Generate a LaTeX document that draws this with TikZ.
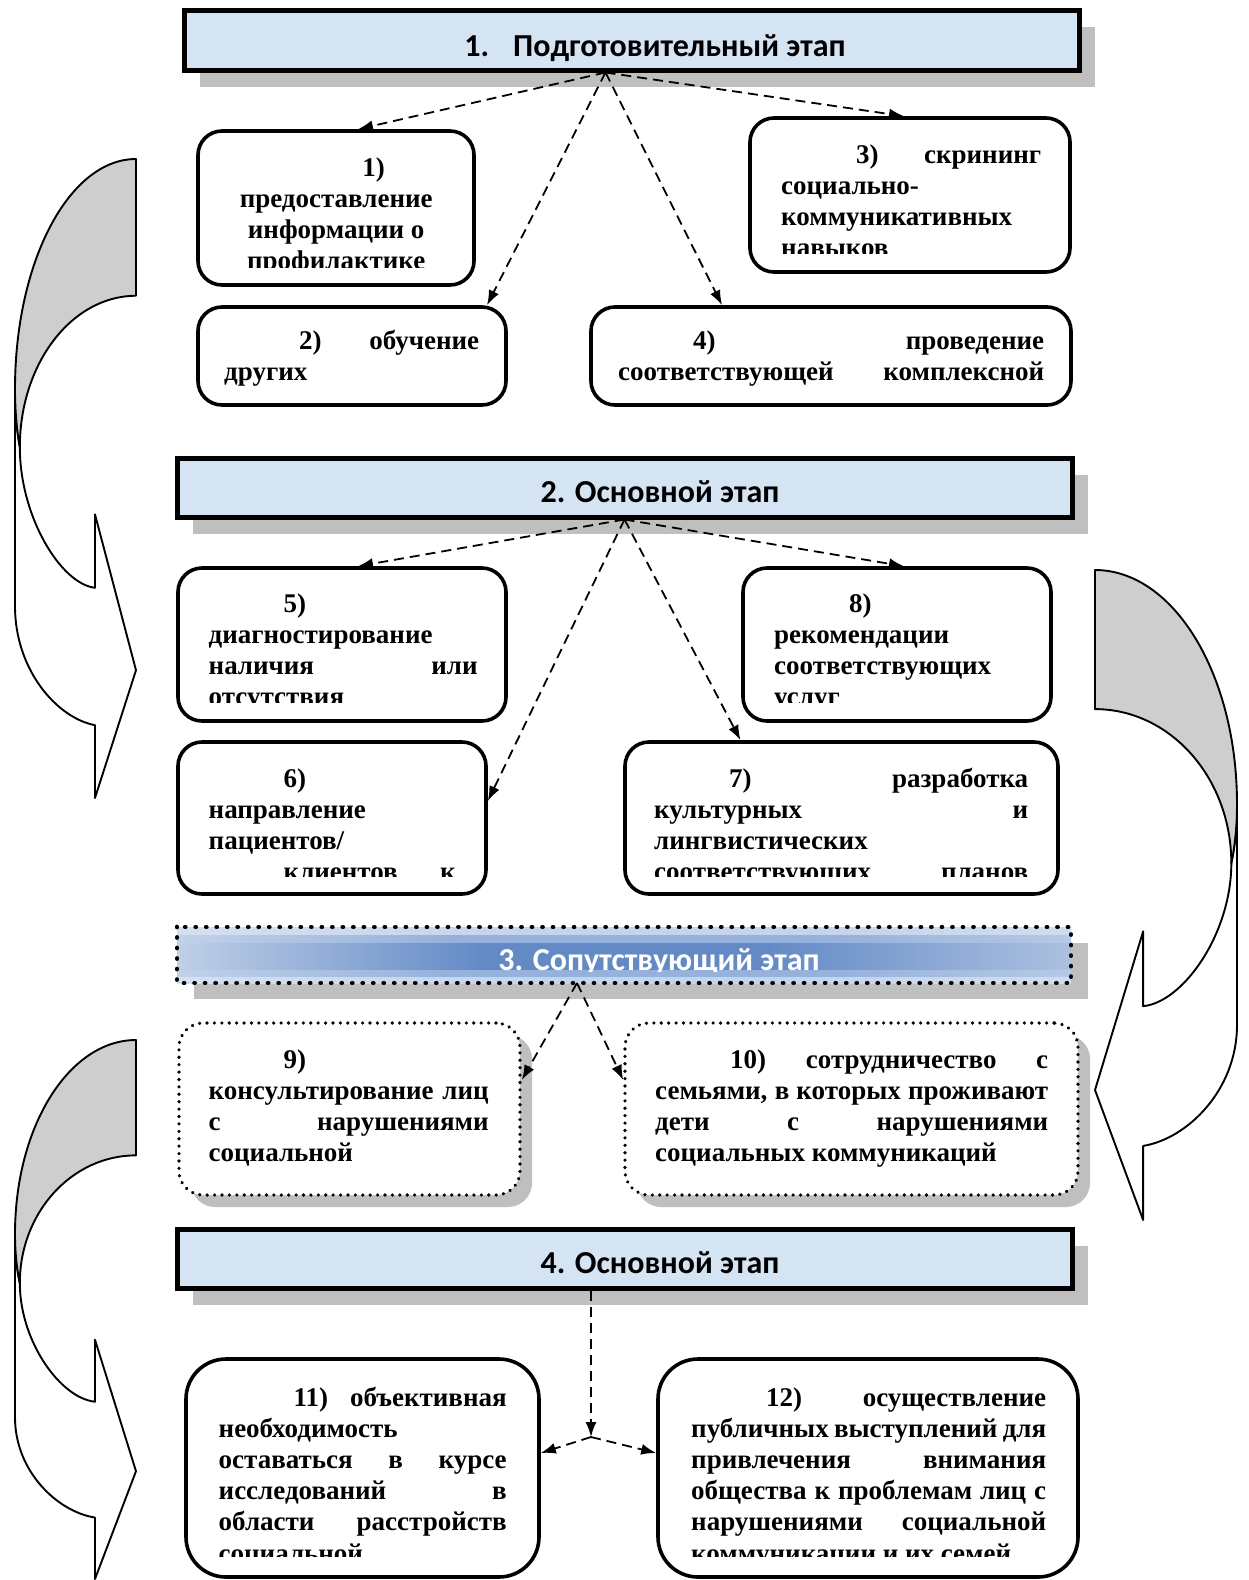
\documentclass[tikz,border=0pt]{standalone}
\usepackage{fontspec}
\setmainfont{Liberation Serif}
\newfontfamily\hdrfont{Carlito}
\usetikzlibrary{arrows.meta,calc,shadows}

\definecolor{hdrblue}{RGB}{212,228,243}
\definecolor{shade}{RGB}{191,191,191}
\definecolor{bandgray}{RGB}{206,206,206}
\definecolor{paleblue}{RGB}{218,228,241}
\definecolor{softblue}{RGB}{196,212,234}
\definecolor{midblue}{RGB}{150,178,220}
\definecolor{deepblue}{RGB}{100,138,198}

% horizontal blends for the third stage header (light edges, blue centre)
\pgfdeclarehorizontalshading{layerone}{100bp}{color(0bp)=(paleblue); color(18bp)=(paleblue);
  color(45bp)=(softblue); color(60bp)=(softblue); color(88bp)=(paleblue); color(100bp)=(paleblue)}
\pgfdeclarehorizontalshading{layertwo}{100bp}{color(0bp)=(paleblue); color(16bp)=(paleblue);
  color(40bp)=(midblue); color(62bp)=(midblue); color(90bp)=(paleblue); color(100bp)=(paleblue)}
\pgfdeclarehorizontalshading{layerthree}{100bp}{color(0bp)=(paleblue); color(20bp)=(paleblue);
  color(42bp)=(deepblue); color(58bp)=(deepblue); color(86bp)=(paleblue); color(100bp)=(paleblue)}

% first-line indent and a justified (stretched) line
\newcommand\firstind{\hspace*{75pt}}
\newcommand\jline[1]{\makebox[\linewidth][s]{#1}}

% curved band arrow: #1 flat-end x, #2 signed width, #3 top y, #4 height
\newcommand{\bentband}[4]{%
  \begin{scope}[shift={(#1,#3)}, xscale=#2, yscale=#4]
    \path[bandwhite] (1,0.36) -- (1,0.70)
      .. controls (1,0.80) and (0.65,0.875) .. (0.339,0.886)
      -- (0.339,1) -- (0,0.8) -- (0.339,0.556) -- (0.339,0.671)
      .. controls (0.62,0.665) and (0.96,0.56) .. (0.96,0.451)
      .. controls (0.98,0.43) and (1,0.40) .. (1,0.36) -- cycle;
    \path[bandback] (0,0)
      .. controls (0.552,0) and (1,0.16) .. (1,0.36)
      .. controls (1,0.40) and (0.98,0.43) .. (0.96,0.451)
      .. controls (0.96,0.32) and (0.53,0.214) .. (0,0.214) -- cycle;
  \end{scope}}

\tikzset{
  hdr/.style={draw=black, line width=5pt, fill=hdrblue, inner sep=0pt,
    drop shadow={opacity=1, fill=shade, shadow xshift=16pt, shadow yshift=-17pt}},
  stage/.style={draw=black, line width=3.6pt, rounded corners=24pt, fill=white, inner sep=0pt},
  dotbox/.style={draw=black, line width=3.6pt, dash pattern=on 0.01pt off 7.4pt,
    line cap=round, rounded corners=24pt, fill=white, inner sep=0pt,
    drop shadow={opacity=1, fill=shade, shadow xshift=12pt, shadow yshift=-12pt}},
  link/.style={draw=black, line width=1.8pt, dash pattern=on 10pt off 6pt,
    -{Latex[length=15pt,width=11pt]}},
  body/.style={font=\fontsize{27}{31.2}\selectfont\bfseries, inner sep=0pt, anchor=base west},
  hdrtext/.style={font=\hdrfont\fontsize{32}{36}\selectfont\bfseries, inner sep=0pt, anchor=base},
  bandwhite/.style={fill=white, draw=black, line width=1.9pt, line join=round},
  bandback/.style={fill=bandgray, draw=black, line width=1.9pt, line join=round},
}

\begin{document}
\begin{tikzpicture}[x=1pt, y=-1pt]
\useasboundingbox (0,0) rectangle (1248,1580);
\fill[white] (0,0) rectangle (1248,1580);

% ---------- stage headers ----------
\node[hdr, minimum width=895pt, minimum height=60pt] (h1) at (631.5,40) {};
\node[hdrtext] (ht1) at (655,56.5) {1.\hspace{24pt}Подготовительный этап};

\node[hdr, minimum width=895pt, minimum height=59pt] (h2) at (624.5,487.5) {};
\node[hdrtext] (ht2) at (660,502.5) {2. Основной этап};

\node[fill=paleblue, inner sep=0pt, outer sep=0pt, minimum width=894pt, minimum height=56pt,
  drop shadow={opacity=1, fill=shade, shadow xshift=17pt, shadow yshift=-16pt}] (h3) at (624,955) {};
\shade[shading=layerone] (h3.north west) rectangle (h3.south east);
\shade[shading=layertwo] ($(h3.north west)+(0,8)$) rectangle ($(h3.south east)+(0,-7)$);
\shade[shading=layerthree] ($(h3.north west)+(0,16)$) rectangle ($(h3.south east)+(0,-14)$);
\begin{scope}
  \clip (h3.north west) rectangle (1071,971);
  \node[hdrtext, text=white] (ht3) at (659,970) {3. Сопутствующий этап};
\end{scope}
\draw[line width=4.8pt, dash pattern=on 0.01pt off 10.5pt, line cap=round]
  (h3.north west) rectangle (h3.south east);

\node[hdr, minimum width=895pt, minimum height=59pt] (h4) at (624.5,1258.5) {};
\node[hdrtext] (ht4) at (660,1273) {4. Основной этап};

% ---------- stage 1 boxes ----------
\node[stage, minimum width=276pt, minimum height=154pt] (b1) at (336,208) {};
\begin{scope}
  \clip (200,131) rectangle (472,267);
  \node[body] (t1) at (223,176) {\parbox[t]{226pt}{\centering
    \firstind 1)\\ предоставление\\ информации о\\ профилактике}};
\end{scope}

\node[stage, minimum width=320pt, minimum height=154pt] (b3) at (910,195) {};
\begin{scope}
  \clip (752,118) rectangle (1068,253);
  \node[body] (t3) at (781,163) {\parbox[t]{260pt}{%
    \jline{\firstind 3) скрининг}\\ социально-\\ коммуникативных\\ навыков}};
\end{scope}

\node[stage, minimum width=308pt, minimum height=98pt] (b2) at (352,356) {};
\begin{scope}
  \clip (200,307) rectangle (504,395);
  \node[body] (t2) at (224,349.5) {\parbox[t]{255pt}{%
    \jline{\firstind 2) обучение}\\ других}};
\end{scope}

\node[stage, minimum width=480pt, minimum height=98pt] (b4) at (831,356) {};
\begin{scope}
  \clip (593,307) rectangle (1069,395);
  \node[body] (t4) at (618,349.5) {\parbox[t]{426pt}{%
    \jline{\firstind 4) проведение}\\ \jline{соответствующей комплексной}}};
\end{scope}

% ---------- stage 2 boxes ----------
\node[stage, minimum width=328pt, minimum height=153pt] (b5) at (342,644.5) {};
\begin{scope}
  \clip (180,568) rectangle (504,702);
  \node[body] (t5) at (208.5,612) {\parbox[t]{269pt}{%
    \firstind 5)\\ диагностирование\\ \jline{наличия или}\\ отсутствия}};
\end{scope}

\node[stage, minimum width=308pt, minimum height=153pt] (b8) at (897,644.5) {};
\begin{scope}
  \clip (745,568) rectangle (1049,702);
  \node[body] (t8) at (774,612) {\parbox[t]{246pt}{%
    \firstind 8)\\ рекомендации\\ соответствующих\\ услуг}};
\end{scope}

\node[stage, minimum width=308pt, minimum height=152pt] (b6) at (332,818) {};
\begin{scope}
  \clip (180,742) rectangle (484,876);
  \node[body] (t6) at (208.5,787) {\parbox[t]{247pt}{%
    \firstind 6)\\ направление\\ пациентов/\\ \jline{\firstind клиентов к}}};
\end{scope}

\node[stage, minimum width=433pt, minimum height=152pt] (b7) at (841.5,818) {};
\begin{scope}
  \clip (627,742) rectangle (1056,876);
  \node[body] (t7) at (654,787) {\parbox[t]{374pt}{%
    \jline{\firstind 7) разработка}\\ \jline{культурных и}\\ лингвистических\\
    \jline{соответствующих планов}}};
\end{scope}

% ---------- stage 3 boxes ----------
\node[dotbox, minimum width=341pt, minimum height=172pt] (b9) at (349.5,1109) {};
\begin{scope}
  \clip (181,1023) rectangle (518,1172);
  \node[body] (t9) at (208.5,1068) {\parbox[t]{280pt}{%
    \firstind 9)\\ \jline{консультирование лиц}\\ \jline{с нарушениями}\\ социальной}};
\end{scope}

\node[dotbox, minimum width=453pt, minimum height=172pt] (b10) at (851.5,1109) {};
\begin{scope}
  \clip (627,1023) rectangle (1076,1172);
  \node[body] (t10) at (655,1068) {\parbox[t]{393pt}{%
    \jline{\firstind 10) сотрудничество с}\\ \jline{семьями, в которых проживают}\\
    \jline{дети с нарушениями}\\ социальных коммуникаций}};
\end{scope}

% ---------- stage 4 boxes ----------
\node[stage, rounded corners=40pt, minimum width=353pt, minimum height=218pt] (b11) at (362.5,1468) {};
\begin{scope}
  \clip (188,1359) rectangle (537,1556);
  \node[body] (t11) at (218.5,1406) {\parbox[t]{288pt}{%
    \jline{\firstind 11) объективная}\\ необходимость\\ \jline{оставаться в курсе}\\
    \jline{исследований в}\\ \jline{области расстройств}\\ социальной}};
\end{scope}

\node[stage, rounded corners=40pt, minimum width=420pt, minimum height=218pt] (b12) at (868,1468) {};
\begin{scope}
  \clip (660,1359) rectangle (1076,1556);
  \node[body] (t12) at (691,1406) {\parbox[t]{355pt}{%
    \jline{\firstind 12) осуществление}\\ \jline{публичных выступлений для}\\
    \jline{привлечения внимания}\\ \jline{общества к проблемам лиц с}\\
    \jline{нарушениями социальной}\\ коммуникации и их семей}};
\end{scope}

% ---------- dashed connectors ----------
\coordinate (a1) at ([xshift=-26pt]h1.south);
\draw[link] (a1) -- ([xshift=22pt]b1.north);
\draw[link] (a1) -- ([xshift=-6pt]b3.north);
\draw[link] (a1) -- ([xshift=135pt]b2.north);
\draw[link] (a1) -- ([xshift=-109pt]b4.north);

\coordinate (a2) at (h2.south);
\draw[link] (a2) -- ([xshift=16pt]b5.north);
\draw[link] (a2) -- ([xshift=7pt]b8.north);
\draw[link] (a2) -- ([yshift=17pt]b6.east);
\draw[link] (a2) -- ([xshift=-101pt]b7.north);

\coordinate (a3) at ([xshift=-47pt]h3.south);
\draw[link] (a3) -- ([yshift=29pt]b9.east);
\draw[link] (a3) -- ([yshift=29pt]b10.west);

\coordinate (a4) at ([xshift=-33.5pt]h4.south);
\coordinate (j4) at (591,1437);
\draw[link] (a4) -- (j4);
\draw[link] (j4) -- ([yshift=15pt]b11.east);
\draw[link] (j4) -- ([yshift=15pt]b12.west);

% ---------- curved side arrows ----------
\bentband{136}{-121}{159}{639}
\bentband{136}{-121}{1040}{539}
\bentband{1095}{142}{570}{650}

\end{tikzpicture}
\end{document}
